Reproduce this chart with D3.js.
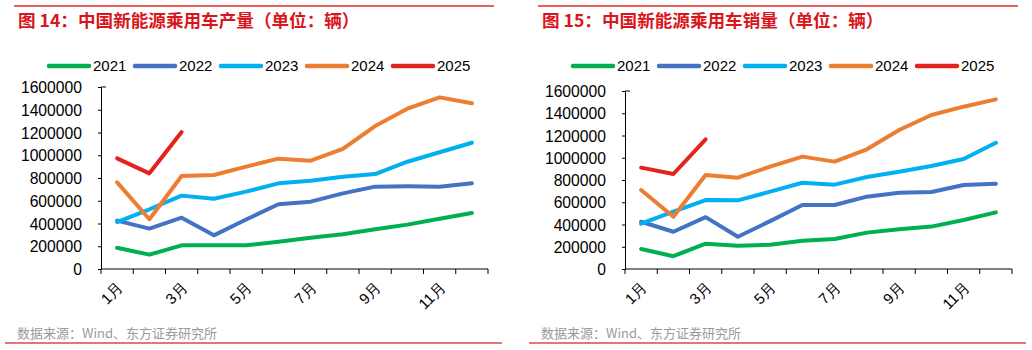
<!DOCTYPE html>
<html>
<head>
<meta charset="utf-8">
<script src="https://cdn.jsdelivr.net/npm/d3@7"></script>
<style>
  body { margin: 0; background: #fff; }
  svg { display: block; font-family: "Liberation Sans", Arial, sans-serif; }
</style>
</head>
<body>
<div id="chart"></div>
<script>
// months and legend
const months = ["1月","2月","3月","4月","5月","6月","7月","8月","9月","10月","11月","12月"];
const years = ["2021","2022","2023","2024","2025"];
const yTicks = [0, 200000, 400000, 600000, 800000, 1000000, 1200000, 1400000, 1600000];

// 产量 (production)
const prod2021 = [187000, 126000, 208000, 208000, 208000, 240000, 275000, 305000, 349000, 390000, 442000, 492000];
const prod2022 = [425000, 355000, 451000, 296000, 435000, 569000, 592000, 665000, 724000, 727000, 724000, 753000];
const prod2023 = [413000, 525000, 645000, 618000, 680000, 753000, 776000, 811000, 835000, 943000, 1026000, 1110000];
const prod2024 = [762000, 437000, 818000, 826000, 900000, 970000, 952000, 1055000, 1257000, 1409000, 1509000, 1457000];
const prod2025 = [973000, 841000, 1204000];

// 销量 (sales)
const sales2021 = [180000, 115000, 228000, 210000, 218000, 254000, 270000, 327000, 357000, 381000, 440000, 509000];
const sales2022 = [425000, 335000, 466000, 290000, 430000, 575000, 575000, 650000, 686000, 692000, 755000, 767000];
const sales2023 = [407000, 515000, 620000, 617000, 695000, 775000, 758000, 827000, 875000, 926000, 989000, 1135000];
const sales2024 = [710000, 470000, 845000, 821000, 920000, 1010000, 965000, 1076000, 1249000, 1384000, 1459000, 1525000];
const sales2025 = [911000, 854000, 1166000];

const colors = ["#00b050", "#4472c4", "#00b0f0", "#ed7d31", "#e3231e"];

const svg = d3.select("#chart").append("svg")
    .attr("width", 1032)
    .attr("height", 350);

function drawPanel(ox, title, series, plotTop) {
    let g = svg.append("g").attr("transform", `translate(${ox},0)`);

    // header / footer rules
    g.append("line").attr("x1", 14).attr("x2", 494).attr("y1", 6).attr("y2", 6)
        .attr("stroke", "#e02a2a").attr("stroke-width", 1.5);
    g.append("text").attr("x", 18).attr("y", 27)
        .attr("fill", "#d9161c").attr("font-size", 17.6).attr("font-weight", "bold")
        .attr("font-family", "'Noto Sans CJK SC', sans-serif")
        .text(title);

    g.append("line").attr("x1", 5).attr("x2", 502).attr("y1", 343).attr("y2", 343)
        .attr("stroke", "#e07878").attr("stroke-width", 2);
    g.append("text").attr("x", 17).attr("y", 338)
        .attr("fill", "#9a9a9a").attr("font-size", 13)
        .attr("font-family", "'Noto Sans CJK SC', sans-serif")
        .text("数据来源：Wind、东方证券研究所");

    // scales
    let x = d3.scaleBand().domain(months).range([101, 488]);
    let y = d3.scaleLinear().domain([0, 1600000]).range([269, plotTop]);

    // y axis
    let yAxis = g.append("g").attr("transform", "translate(101,0)")
        .call(d3.axisLeft(y).tickValues(yTicks).tickSize(3).tickSizeOuter(0).tickFormat(d3.format("d")));
    yAxis.select(".domain").attr("stroke", "#000");
    yAxis.selectAll("text").attr("font-size", 15.7).attr("fill", "#000").attr("x", -19).attr("dy", "0.35em");
    yAxis.selectAll(".tick line").attr("stroke", "#000");
    g.append("line").attr("x1", 101).attr("x2", 106).attr("y1", plotTop).attr("y2", plotTop).attr("stroke", "#000");

    // x axis: ticks at band edges, labels every other month
    let xAxis = g.append("g").attr("transform", "translate(0,269)");
    xAxis.append("line").attr("x1", 101).attr("x2", 488).attr("stroke", "#000");
    let edges = d3.range(months.length + 1).map(i => 101 + i * x.step());
    xAxis.selectAll(".xt").data(edges).enter().append("line")
        .attr("x1", d => d).attr("x2", d => d).attr("y1", 0).attr("y2", 5)
        .attr("stroke", "#000");
    xAxis.selectAll(".xl").data(months.filter((m, i) => i % 2 === 0)).enter().append("text")
        .attr("text-anchor", "end")
        .attr("font-size", 15)
        .attr("transform", d => `translate(${x(d) + x.bandwidth() / 2 + 3},${16}) rotate(-45)`)
        .attr("dy", "0.35em")
        .text(d => d);

    // lines
    let line = d3.line()
        .x((d, i) => x(months[i]) + x.bandwidth() / 2)
        .y(d => y(d));
    series.forEach((s, i) => {
        g.append("path").datum(s)
            .attr("fill", "none")
            .attr("stroke", colors[i])
            .attr("stroke-width", 4)
            .attr("stroke-linejoin", "round")
            .attr("stroke-linecap", "round")
            .attr("d", line);
    });

    // legend
    let legend = g.append("g").attr("transform", "translate(49,66)");
    years.forEach((yr, i) => {
        let lx = i * 86;
        legend.append("line").attr("x1", lx).attr("x2", lx + 40).attr("y1", 0).attr("y2", 0)
            .attr("stroke", colors[i]).attr("stroke-width", 4.5).attr("stroke-linecap", "round");
        legend.append("text").attr("x", lx + 44).attr("y", 0).attr("dy", "0.35em")
            .attr("font-size", 15).text(yr);
    });
}

drawPanel(0, "图 14：中国新能源乘用车产量（单位：辆）",
    [prod2021, prod2022, prod2023, prod2024, prod2025], 87);
drawPanel(524, "图 15：中国新能源乘用车销量（单位：辆）",
    [sales2021, sales2022, sales2023, sales2024, sales2025], 91);
</script>
</body>
</html>
